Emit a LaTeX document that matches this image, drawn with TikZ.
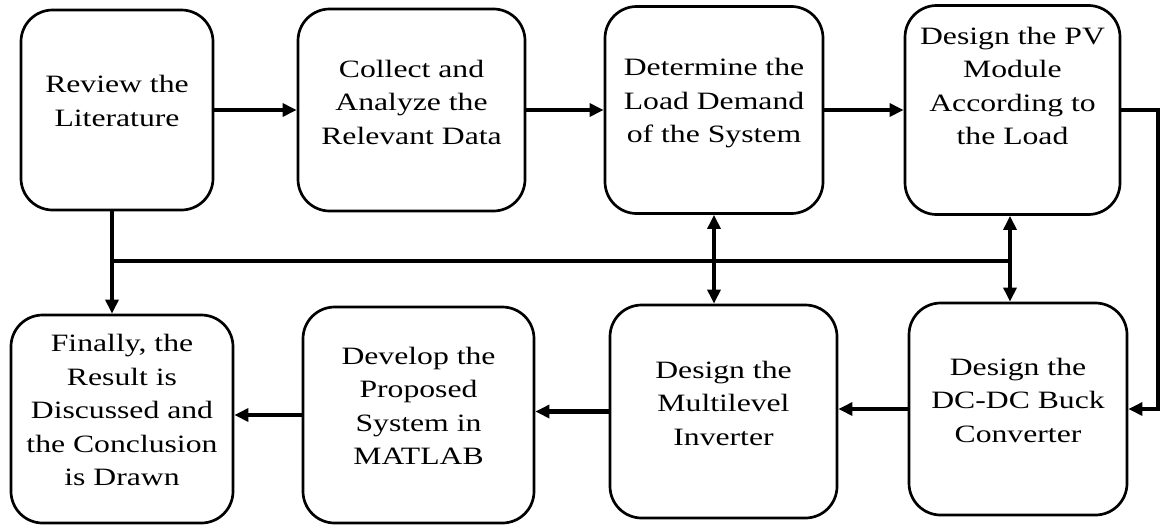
\documentclass[tikz,border=0pt]{standalone}
\usepackage{fontspec}
\setmainfont{Liberation Serif}[FakeStretch=1.27]
\usetikzlibrary{arrows.meta}

\tikzset{
  stepbox/.style 2 args={draw, line width=2.3pt, rounded corners=0.95cm,
    minimum width=#1*0.03cm, minimum height=#2*0.03cm, inner sep=0pt},
  steptext/.style={align=center, inner sep=0pt,
    font=\fontsize{21.3pt}{28.6pt}\selectfont},
  link/.style={line width=3.8pt},
  arr/.style={link, -{Triangle[length=12pt,width=11pt]}},
  arrs/.style={link, {Triangle[length=12pt,width=11pt]}-{Triangle[length=12pt,width=11pt]}},
}

\begin{document}
\begin{tikzpicture}[x=0.03cm, y=-0.03cm]

    \useasboundingbox (0,0) rectangle (1161,525);

    % Top row of steps
    \node[stepbox={192}{200}] (review) at (117,110) {};
    \node[stepbox={227}{202}] (collect) at (411.5,110) {};
    \node[stepbox={218}{207}] (determine) at (714,110) {};
    \node[stepbox={215}{209}] (pv) at (1012.5,110) {};

    \node[steptext] (review-t) at ([yshift=0.27cm]review.center) {Review the\\Literature};
    \node[steptext] (collect-t) at ([yshift=0.24cm]collect.center) {Collect and\\Analyze the\\Relevant Data};
    \node[steptext] (determine-t) at ([yshift=0.2cm]determine.center) {Determine the\\Load Demand\\of the System};
    \node[steptext] (pv-t) at ([yshift=0.72cm]pv.center) {Design the PV\\Module\\According to\\the Load};

    % Bottom row of steps
    \node[stepbox={222}{208}] (finally) at (122,419) {};
    \node[stepbox={231}{216}] (develop) at (418.5,415) {};
    \node[stepbox={227}{213}] (multi) at (723.5,411.5) {};
    \node[stepbox={218}{212}] (dcdc) at (1018,409) {};

    \node[steptext] (finally-t) at ([yshift=0.27cm]finally.center) {Finally, the\\Result is\\Discussed and\\the Conclusion\\is Drawn};
    \node[steptext] (develop-t) at ([yshift=0.27cm]develop.center) {Develop the\\Proposed\\System in\\MATLAB};
    \node[steptext] (multi-t) at ([yshift=0.25cm]multi.center) {Design the\\Multilevel\\Inverter};
    \node[steptext] (dcdc-t) at ([yshift=0.27cm]dcdc.center) {Design the\\DC-DC Buck\\Converter};

    % Flow along the top row
    \draw[arr] (review) -- (collect);
    \draw[arr] (collect) -- (determine);
    \draw[arr] (determine) -- (pv);

    % Down the right side and back along the bottom row
    \coordinate (rturn) at (1158,110);
    \draw[arr] (pv.east) -- (rturn) |- (dcdc.east);
    \draw[arr] (dcdc.west) -- (dcdc.west -| multi.east);
    \draw[arr] (multi.west) -- (multi.west -| develop.east);
    \draw[arr] (develop.west) -- (develop.west -| finally.east);

    % Common bus between the rows
    \coordinate (lbus) at (112,261);
    \coordinate (rbus) at (1010,261);
    \draw[link] (lbus) -- (rbus);
    \draw[arr] (lbus |- review.south) -- (lbus |- finally.north);
    \draw[arrs] (determine.south) -- (determine.south |- multi.north);
    \draw[arrs] (rbus |- pv.south) -- (rbus |- dcdc.north);

\end{tikzpicture}
\end{document}
